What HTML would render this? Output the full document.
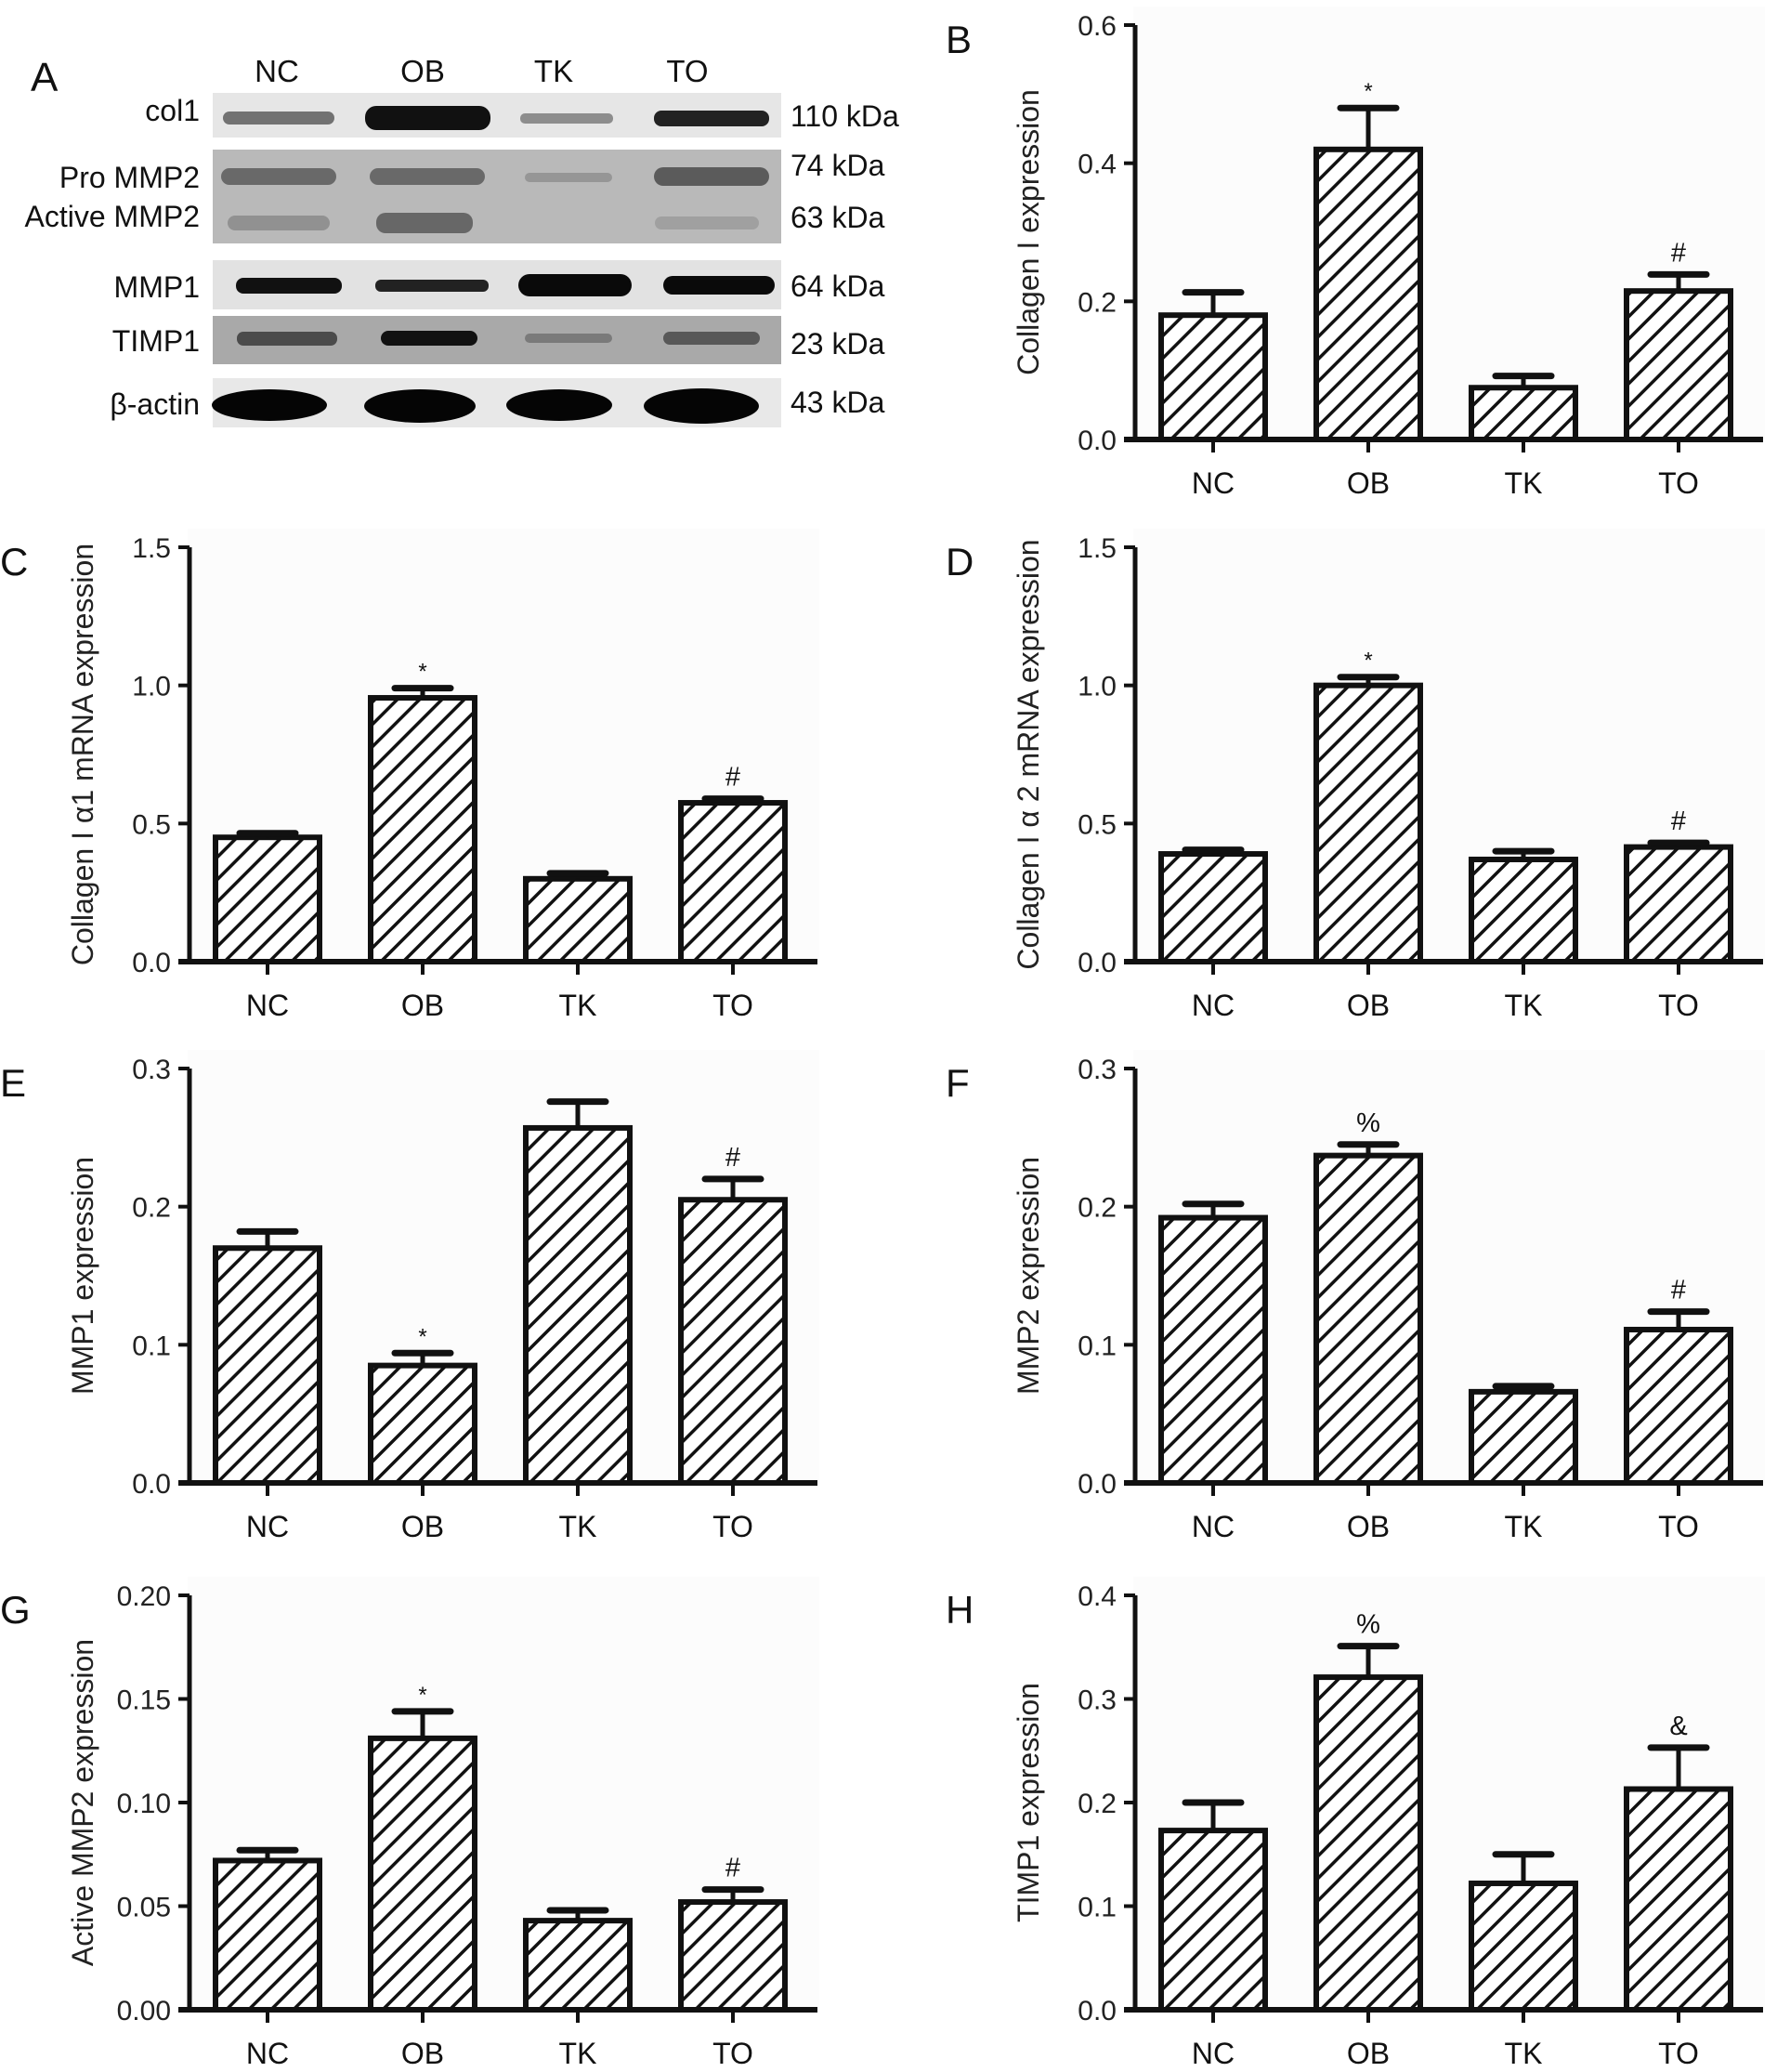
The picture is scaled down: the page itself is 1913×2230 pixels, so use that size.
<!DOCTYPE html>
<html><head><meta charset="utf-8"><style>
html,body{margin:0;padding:0;background:#fff;}
svg{display:block;font-family:"Liberation Sans",Arial,sans-serif;}
</style></head><body>
<svg id="fig" width="1913" height="2230" viewBox="0 0 1913 2230" xmlns="http://www.w3.org/2000/svg">
<defs>
<pattern id="hatch" patternUnits="userSpaceOnUse" width="17" height="17" patternTransform="rotate(45)">
<rect width="17" height="17" fill="#fff"/>
<line x1="0" y1="0" x2="0" y2="17" stroke="#111" stroke-width="7"/>
</pattern>
</defs>
<g id="blot">
<rect x="229" y="100" width="612" height="48" fill="#e6e6e6"/>
<rect x="229" y="161" width="612" height="101" fill="#b9b9b9"/>
<rect x="229" y="280" width="612" height="53" fill="#e2e2e2"/>
<rect x="229" y="340" width="612" height="52" fill="#a9a9a9"/>
<rect x="229" y="407" width="612" height="53" fill="#e8e8e8"/>
<g>
<rect x="240" y="120" width="120" height="14" rx="7" fill="#555" opacity="0.8"/>
<rect x="393" y="114" width="135" height="26" rx="12" fill="#111"/>
<rect x="560" y="122" width="100" height="11" rx="5" fill="#777" opacity="0.8"/>
<rect x="704" y="119" width="124" height="17" rx="8" fill="#222"/>
</g>
<g>
<rect x="238" y="181" width="124" height="18" rx="9" fill="#555" opacity="0.8"/>
<rect x="398" y="181" width="124" height="18" rx="9" fill="#555" opacity="0.8"/>
<rect x="565" y="186" width="94" height="10" rx="5" fill="#888" opacity="0.7"/>
<rect x="704" y="180" width="124" height="20" rx="10" fill="#444" opacity="0.8"/>
</g>
<g>
<rect x="245" y="232" width="110" height="16" rx="8" fill="#777" opacity="0.6"/>
<rect x="405" y="229" width="104" height="22" rx="10" fill="#444" opacity="0.7"/>
<rect x="705" y="233" width="112" height="14" rx="7" fill="#888" opacity="0.5"/>
</g>
<g>
<rect x="254" y="299" width="114" height="17" rx="8" fill="#111"/>
<rect x="404" y="301" width="122" height="13" rx="6" fill="#222"/>
<rect x="558" y="295" width="122" height="24" rx="12" fill="#0a0a0a"/>
<rect x="714" y="297" width="120" height="20" rx="10" fill="#0a0a0a"/>
</g>
<g>
<rect x="255" y="357" width="108" height="15" rx="7" fill="#333" opacity="0.8"/>
<rect x="410" y="356" width="104" height="16" rx="8" fill="#111"/>
<rect x="565" y="359" width="94" height="10" rx="5" fill="#666" opacity="0.7"/>
<rect x="714" y="357" width="104" height="14" rx="7" fill="#444" opacity="0.8"/>
</g>
<g>
<ellipse cx="290" cy="436" rx="62" ry="17" fill="#050505"/>
<ellipse cx="452" cy="437" rx="60" ry="18" fill="#050505"/>
<ellipse cx="602" cy="436" rx="57" ry="17" fill="#050505"/>
<ellipse cx="755" cy="437" rx="62" ry="19" fill="#050505"/>
</g>
</g>
<g id="charts"></g>
</svg>
<script>
const categories = ["NC","OB","TK","TO"];
const bValues = [0.18,0.42,0.075,0.215];
const bErrors = [0.033,0.06,0.017,0.024];
const bMarks = ["","*","","#"];
const bTicks = ["0.0","0.2","0.4","0.6"];
const cValues = [0.45,0.955,0.30,0.575];
const cErrors = [0.015,0.035,0.02,0.015];
const cMarks = ["","*","","#"];
const cTicks = ["0.0","0.5","1.0","1.5"];
const dValues = [0.39,1.0,0.37,0.415];
const dErrors = [0.015,0.03,0.03,0.015];
const dMarks = ["","*","","#"];
const dTicks = ["0.0","0.5","1.0","1.5"];
const eValues = [0.17,0.085,0.257,0.205];
const eErrors = [0.012,0.009,0.019,0.015];
const eMarks = ["","*","","#"];
const eTicks = ["0.0","0.1","0.2","0.3"];
const fValues = [0.192,0.237,0.066,0.111];
const fErrors = [0.01,0.008,0.004,0.013];
const fMarks = ["","%","","#"];
const fTicks = ["0.0","0.1","0.2","0.3"];
const gValues = [0.072,0.131,0.043,0.052];
const gErrors = [0.005,0.013,0.005,0.006];
const gMarks = ["","*","","#"];
const gTicks = ["0.00","0.05","0.10","0.15","0.20"];
const hValues = [0.173,0.321,0.122,0.213];
const hErrors = [0.027,0.03,0.028,0.04];
const hMarks = ["","%","","&"];
const hTicks = ["0.0","0.1","0.2","0.3","0.4"];
const laneLabels = ["NC","OB","TK","TO"];

const NS="http://www.w3.org/2000/svg";
function mk(tag,attrs,parent,text){const e=document.createElementNS(NS,tag);for(const k in attrs)e.setAttribute(k,attrs[k]);if(text!==undefined)e.textContent=text;parent.appendChild(e);return e;}

const panels=[
 {letter:"B",title:"Collagen I expression",vals:bValues,errs:bErrors,marks:bMarks,ticks:bTicks,ax:1222,zero:473},
 {letter:"C",title:"Collagen I \u03b11 mRNA expression",vals:cValues,errs:cErrors,marks:cMarks,ticks:cTicks,ax:204,zero:1035},
 {letter:"D",title:"Collagen I \u03b1 2 mRNA expression",vals:dValues,errs:dErrors,marks:dMarks,ticks:dTicks,ax:1222,zero:1035},
 {letter:"E",title:"MMP1 expression",vals:eValues,errs:eErrors,marks:eMarks,ticks:eTicks,ax:204,zero:1596},
 {letter:"F",title:"MMP2 expression",vals:fValues,errs:fErrors,marks:fMarks,ticks:fTicks,ax:1222,zero:1596},
 {letter:"G",title:"Active MMP2 expression",vals:gValues,errs:gErrors,marks:gMarks,ticks:gTicks,ax:204,zero:2163},
 {letter:"H",title:"TIMP1 expression",vals:hValues,errs:hErrors,marks:hMarks,ticks:hTicks,ax:1222,zero:2163}
];
const charts=document.getElementById('charts');
const H=446;
panels.forEach(p=>{
 const g=mk('g',{},charts);
 
 
 const ymax=parseFloat(p.ticks[p.ticks.length-1]);
 const y=v=>p.zero-v/ymax*H;
 const x=i=>p.ax+84+i*167;
 const top=p.zero-H;
 mk('rect',{x:p.ax-2,y:top-20,width:680,height:H+20,fill:"#fcfcfc"},g);
 p.vals.forEach((v,i)=>{
  const b=mk('rect',{x:x(i)-56,y:y(v),width:112,height:p.zero-y(v),fill:"url(#hatch)",stroke:"#111","stroke-width":6},g);
  
  
  const ye=y(v+p.errs[i]);
  const eb=mk('g',{},g);
  
  
  mk('line',{x1:x(i),x2:x(i),y1:y(v),y2:ye,stroke:"#111","stroke-width":5},eb);
  mk('line',{x1:x(i)-30,x2:x(i)+30,y1:ye,y2:ye,stroke:"#111","stroke-width":7,"stroke-linecap":"round"},eb);
  if(p.marks[i]){
   const isStar=p.marks[i]==="*";
   const t=mk('text',{x:x(i),y:ye-(isStar?10:14),"text-anchor":"middle","font-size":isStar?24:29,fill:"#111"},g,p.marks[i]);
   
   
  }
  const tk=mk('line',{x1:x(i),x2:x(i),y1:p.zero,y2:p.zero+14,stroke:"#111","stroke-width":4},g);
  
  
  const cl=mk('text',{x:x(i),y:p.zero+58,"text-anchor":"middle","font-size":32,fill:"#111"},g,categories[i]);
  
  
 });
 const ya=mk('line',{x1:p.ax,x2:p.ax,y1:top,y2:p.zero,stroke:"#111","stroke-width":5},g);
 
 
 const xa=mk('line',{x1:p.ax-12,x2:p.ax+676,y1:p.zero,y2:p.zero,stroke:"#111","stroke-width":6},g);
 
 
 p.ticks.forEach((t,j)=>{
  const v=parseFloat(t);
  mk('line',{x1:p.ax-12,x2:p.ax,y1:y(v),y2:y(v),stroke:"#111","stroke-width":4},g);
  const tl=mk('text',{x:p.ax-20,y:y(v)+11,"text-anchor":"end","font-size":30,fill:"#222"},g,t);
  
  
 });
 const cy=top+H/2;
 const tx=p.ax-104;
 const tt=mk('text',{x:tx,y:cy,"text-anchor":"middle","font-size":32,fill:"#222",transform:`rotate(-90 ${tx} ${cy})`},g,p.title);
 
 
 const pl=mk('text',{x:p.ax-204,y:top+30,"font-size":42,fill:"#111"},g,p.letter);
 
 
});

const blot=document.getElementById('blot');
mk('text',{x:33,y:98,"font-size":44,fill:"#111"},blot,"A");
laneLabels.forEach((l,i)=>{const t=mk('text',{x:[298,455,596,740][i],y:88,"text-anchor":"middle","font-size":33,fill:"#111"},blot,l);
 
 });
const leftLabels=[["col1",130],["Pro MMP2",202],["Active MMP2",244],["MMP1",320],["TIMP1",378],["\u03b2-actin",446]];
leftLabels.forEach(([t,yy])=>{const e=mk('text',{x:215,y:yy,"text-anchor":"end","font-size":32,fill:"#111"},blot,t);
 
 });
const kda=[["110 kDa",136],["74 kDa",189],["63 kDa",245],["64 kDa",319],["23 kDa",381],["43 kDa",444]];
kda.forEach(([t,yy])=>{const e=mk('text',{x:851,y:yy,"font-size":32,fill:"#111"},blot,t);
 
 });
</script>
</body></html>
